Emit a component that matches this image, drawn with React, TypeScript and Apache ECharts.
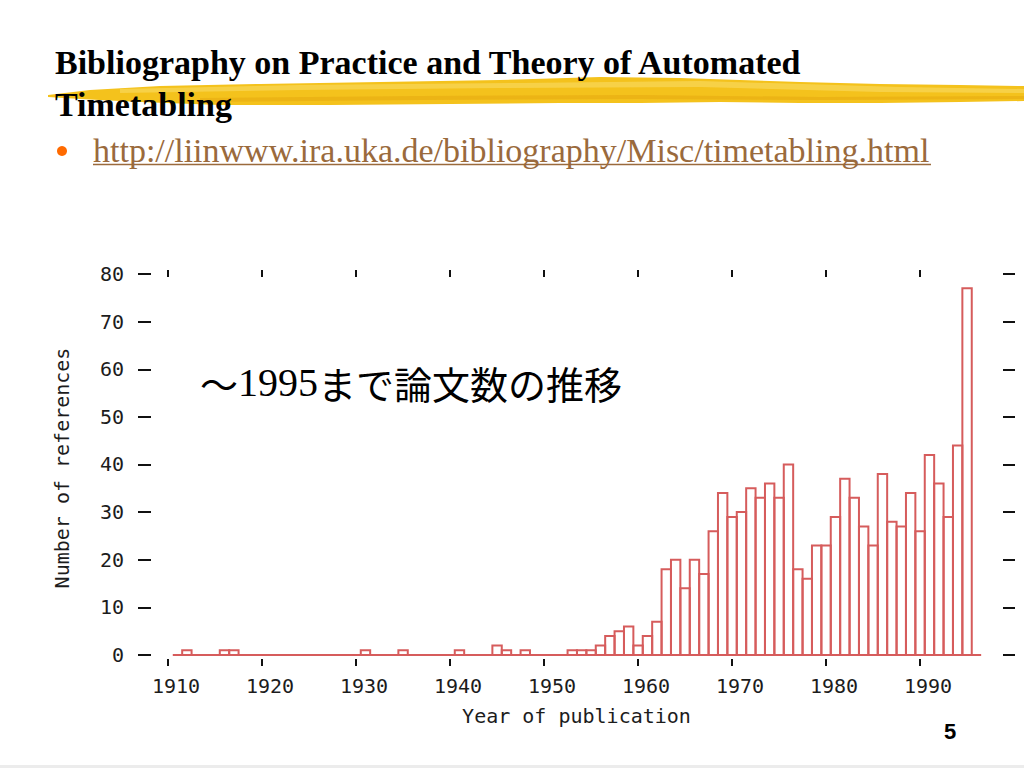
import React, { useEffect, useRef } from 'react';
import * as echarts from 'echarts';

// Histogram data: publication year -> number of references (years not listed are 0)
const years = [1912, 1916, 1917, 1931, 1935, 1941, 1945, 1946, 1948,
  1953, 1954, 1955, 1956, 1957, 1958, 1959, 1960, 1961, 1962, 1963, 1964,
  1965, 1966, 1967, 1968, 1969, 1970, 1971, 1972, 1973, 1974, 1975, 1976,
  1977, 1978, 1979, 1980, 1981, 1982, 1983, 1984, 1985, 1986, 1987, 1988,
  1989, 1990, 1991, 1992, 1993, 1994, 1995];
const counts = [1, 1, 1, 1, 1, 1, 2, 1, 1,
  1, 1, 1, 2, 4, 5, 6, 2, 4, 7, 18, 20,
  14, 20, 17, 26, 34, 29, 30, 35, 33, 36, 33, 40,
  18, 16, 23, 23, 29, 37, 33, 27, 23, 38, 28, 27,
  34, 26, 42, 36, 29, 44, 77];
const baselineRange = [1910.5, 1996.5];
const xTicks = [1910, 1920, 1930, 1940, 1950, 1960, 1970, 1980, 1990];
const yTicks = [0, 10, 20, 30, 40, 50, 60, 70, 80];

const titleLine1 = 'Bibliography on Practice and Theory of Automated';
const titleLine2 = 'Timetabling';
const linkText = 'http://liinwww.ira.uka.de/bibliography/Misc/timetabling.html';
const noteText = '{a|～}{b|1995}{a|まで論文数の推移}';
const pageNumber = '5';

const BAR = '#d65c5c';
const MONO = '"DejaVu Sans Mono", "Liberation Mono", monospace';
const TXT = '#1c1c1c';

export default function App() {
  const ref = useRef<HTMLDivElement>(null);
  useEffect(() => {
    if (!ref.current) return;
    const chart = echarts.init(ref.current, null, { renderer: 'svg' });
    const tickStyle = { color: '#111', width: 2 };
    const option: any = {
      animation: false,
      backgroundColor: '#ffffff',
      grid: { left: 138, top: 270, width: 877, height: 396, containLabel: false },
      xAxis: [
        {
          type: 'value', min: 1906.8, max: 2000.1, position: 'bottom',
          axisLine: { show: false, onZero: false }, splitLine: { show: false },
          axisTick: { show: true, inside: true, length: 7, customValues: xTicks, lineStyle: tickStyle },
          axisLabel: {
            customValues: xTicks, margin: 10, fontFamily: MONO, fontSize: 20, color: TXT,
            padding: [0, 0, 0, 16], formatter: (v: number) => String(v),
          },
          name: 'Year of publication', nameLocation: 'middle', nameGap: 40,
          nameTextStyle: { fontFamily: MONO, fontSize: 20, color: TXT },
        },
        {
          type: 'value', min: 1906.8, max: 2000.1, position: 'top',
          axisLine: { show: false, onZero: false }, splitLine: { show: false },
          axisTick: { show: true, inside: true, length: 7, customValues: xTicks, lineStyle: tickStyle },
          axisLabel: { show: false },
        },
      ],
      yAxis: [
        {
          type: 'value', min: -2.31, max: 80.84, position: 'left',
          axisLine: { show: false, onZero: false }, splitLine: { show: false },
          axisTick: { show: true, inside: true, length: 13, customValues: yTicks, lineStyle: tickStyle },
          axisLabel: {
            customValues: yTicks, margin: 14, fontFamily: MONO, fontSize: 20, color: TXT,
            formatter: (v: number) => String(v),
          },
          name: 'Number of references', nameLocation: 'middle', nameGap: 66, nameRotate: 90,
          nameTextStyle: { fontFamily: MONO, fontSize: 20, color: TXT },
        },
        {
          type: 'value', min: -2.31, max: 80.84, position: 'right',
          axisLine: { show: false, onZero: false }, splitLine: { show: false },
          axisTick: { show: true, inside: true, length: 12, customValues: yTicks, lineStyle: tickStyle },
          axisLabel: { show: false },
        },
      ],
      series: [
        {
          type: 'line', xAxisIndex: 0, yAxisIndex: 0, symbol: 'none', silent: true,
          data: [[baselineRange[0], 0], [baselineRange[1], 0]],
          lineStyle: { color: BAR, width: 2 }, z: 2,
        },
        {
          type: 'custom', xAxisIndex: 0, yAxisIndex: 0, z: 3,
          data: years.map((y, i) => [y, counts[i]]),
          encode: { x: 0, y: 1 },
          renderItem: (params: any, api: any) => {
            const yr = api.value(0);
            const v = api.value(1);
            const p0 = api.coord([yr - 0.5, v]);
            const p1 = api.coord([yr + 0.5, 0]);
            return {
              type: 'rect',
              shape: { x: p0[0], y: p0[1], width: p1[0] - p0[0], height: p1[1] - p0[1] },
              style: { fill: 'none', stroke: BAR, lineWidth: 2 },
            };
          },
        },
      ],
      graphic: [
        // yellow brush stroke
        {
          type: 'polygon', z: 1,
          shape: {
            points: [[48, 95], [90, 90], [160, 86], [260, 84], [380, 82], [500, 80], [600, 77],
              [680, 78], [740, 80], [800, 82], [880, 84], [960, 85], [1024, 86],
              [1024, 101], [960, 102], [880, 103], [800, 103], [720, 102], [640, 103],
              [560, 103], [450, 104], [330, 105], [220, 105], [140, 102], [80, 99], [48, 97]],
          },
          style: { fill: '#f4c21c' },
        },
        {
          type: 'polygon', z: 1,
          shape: {
            points: [[120, 89], [300, 85], [520, 83], [700, 81], [900, 87], [1024, 89],
              [1024, 93], [880, 92], [700, 87], [500, 88], [300, 90], [120, 93]],
          },
          style: { fill: '#f8d452', opacity: 0.8 },
        },
        {
          type: 'polygon', z: 1,
          shape: {
            points: [[200, 98], [420, 96], [640, 95], [820, 97], [1024, 96],
              [1024, 99], [820, 100], [640, 99], [420, 100], [200, 102]],
          },
          style: { fill: '#e8ae12', opacity: 0.7 },
        },
        {
          type: 'text', z: 10, x: 55, y: 62,
          style: { text: titleLine1, font: 'bold 34px "Liberation Serif", serif', fill: '#000', verticalAlign: 'middle' },
        },
        {
          type: 'text', z: 10, x: 55, y: 104,
          style: { text: titleLine2, font: 'bold 34px "Liberation Serif", serif', fill: '#000', verticalAlign: 'middle' },
        },
        {
          type: 'circle', z: 10, shape: { cx: 62, cy: 151, r: 5 }, style: { fill: '#ff6a00' },
        },
        {
          type: 'text', z: 10, x: 93, y: 150,
          style: { text: linkText, font: '34px "Liberation Serif", serif', fill: '#9a6a3c', verticalAlign: 'middle' },
        },
        {
          type: 'line', z: 10, shape: { x1: 93, y1: 164.5, x2: 931, y2: 164.5 },
          style: { stroke: '#9a6a3c', lineWidth: 1.5 },
        },
        {
          type: 'text', z: 10, x: 200, y: 382,
          style: {
            text: noteText, verticalAlign: 'middle', fill: '#000',
            rich: {
              a: { fontFamily: '"Noto Sans CJK JP", sans-serif', fontSize: 38, fill: '#000', color: '#000' },
              b: { fontFamily: '"Liberation Serif", serif', fontSize: 40, fill: '#000', color: '#000' },
            },
          },
        },
        {
          type: 'text', z: 10, x: 950, y: 731,
          style: { text: pageNumber, font: 'bold 22px "Liberation Sans", sans-serif', fill: '#000', align: 'center', verticalAlign: 'middle' },
        },
        {
          type: 'rect', z: 1, shape: { x: 0, y: 765, width: 1024, height: 3 }, style: { fill: '#ececec' },
        },
      ],
    };
    chart.setOption(option);
    return () => chart.dispose();
  }, []);
  return (
    <div
      ref={ref}
      style={{ position: 'fixed', left: 0, top: 0, width: 1024, height: 768, background: '#fff' }}
    />
  );
}
